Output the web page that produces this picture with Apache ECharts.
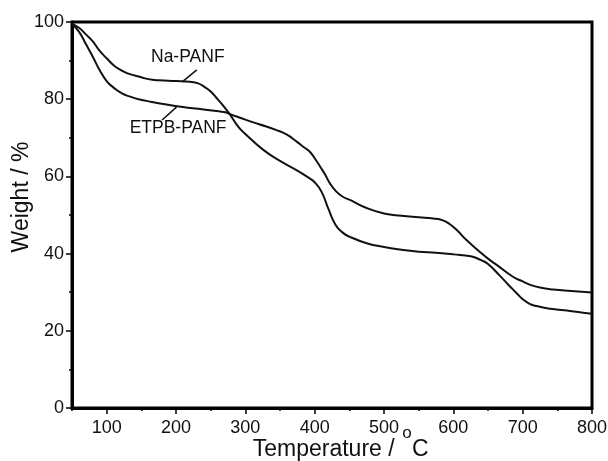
<!DOCTYPE html>
<html><head><meta charset="utf-8">
<script src="https://cdn.jsdelivr.net/npm/echarts@6/dist/echarts.min.js"></script>
<style>html,body{margin:0;padding:0;background:#fff}#c{width:608px;height:461px}</style>
</head><body><div id="c"></div>
<script>
const naTemp = [50,60,70,80,90,100,110,120,130,150,160,175,200,220,232,240,250,260,270,278,290,300,325,350,375,390,400,410,420,430,440,450,475,500,525,550,575,600,625,640,650,667,680,690,700,710,720,740,760,780,800];
const naWeight = [99.5,98.5,96.8,95.0,92.5,90.6,88.8,87.6,86.7,85.7,85.2,84.9,84.7,84.5,84.1,83.3,82.0,80.0,77.9,76.0,72.8,71.0,67.0,64.0,61.5,59.8,58.5,56.0,51.5,47.5,45.5,44.4,42.7,41.7,41.0,40.5,40.2,39.8,39.3,38.3,37.3,34.3,31.8,30.0,28.2,27.0,26.4,25.7,25.3,24.9,24.4];
const etTemp = [50,60,70,80,90,100,110,122,135,146,165,184,210,232,255,271,280,300,320,345,360,374,385,393,400,408,415,422,430,440,451,475,500,525,550,571,585,595,605,619,638,650,663,686,700,711,725,744,770,800];
const etWeight = [99.5,97.5,94.3,91.0,87.5,84.7,83.0,81.5,80.6,80.0,79.3,78.7,78.0,77.5,77.0,76.6,76.0,74.7,73.5,72.0,70.8,69.0,67.5,66.4,64.7,62.5,60.5,58.2,56.3,54.8,53.9,51.8,50.4,49.8,49.4,49.1,48.6,47.6,46.1,43.5,40.5,38.7,37.0,34.0,32.8,31.9,31.2,30.7,30.3,29.9];
const xMajorTicks = [100,200,300,400,500,600,700,800];
const seriesNames = ['Na-PANF','ETPB-PANF'];
const xTitleMain = 'Temperature / ';
const xTitleSup = 'o';
const xTitleUnit = 'C';
const yTitle = 'Weight / %';

const font = 'Liberation Sans, Arial, sans-serif';
const chart = echarts.init(document.getElementById('c'), null, {renderer:'canvas'});
const pair = (xs, ys) => xs.map((x,i)=>[x, ys[i]]);
chart.setOption({
  animation:false,
  backgroundColor:'#fff',
  grid:{left:72,right:16,top:22,bottom:53,outerBoundsMode:'none',containLabel:false,show:true,borderColor:'#000',borderWidth:3,backgroundColor:'transparent'},
  xAxis:[{
    type:'value',min:50,max:800,interval:50,position:'bottom',
    axisLine:{lineStyle:{color:'#000',width:3}},
    axisTick:{show:true,inside:false,length:3,lineStyle:{color:'#000',width:1.5}},
    splitLine:{show:false},
    axisLabel:{margin:11,color:'#111',fontSize:18,fontFamily:font,
      formatter:v=> (v%100===0 ? String(v) : '')}
  },{
    type:'value',min:50,max:800,position:'bottom',
    axisLine:{show:false},
    axisTick:{show:true,inside:false,length:6,customValues:xMajorTicks,lineStyle:{color:'#000',width:1.5}},
    axisLabel:{show:false},splitLine:{show:false}
  }],
  yAxis:{
    type:'value',min:0,max:100,interval:20,
    axisLine:{show:true,lineStyle:{color:'#000',width:3}},
    axisTick:{show:true,inside:false,length:6,lineStyle:{color:'#000',width:1.5}},
    minorTick:{show:true,splitNumber:2,length:3,lineStyle:{color:'#000',width:1.5}},
    splitLine:{show:false},
    axisLabel:{margin:8,color:'#111',fontSize:18,fontFamily:font}
  },
  series:[
    {name:seriesNames[0],type:'line',data:pair(naTemp,naWeight),smooth:true,showSymbol:false,
     lineStyle:{color:'#111',width:2}},
    {name:seriesNames[1],type:'line',data:pair(etTemp,etWeight),smooth:true,showSymbol:false,
     lineStyle:{color:'#111',width:2}}
  ]
});
const P = (t,w)=>chart.convertToPixel({gridIndex:0},[t,w]);
const a1=P(217,90.9), l1a=P(209,84.5), l1b=P(230,87.6);
const a2=P(203,72.5), l2a=P(180,74.6), l2b=P(201,78.0);
chart.setOption({graphic:[
  {type:'text',x:a1[0],y:a1[1],style:{text:seriesNames[0],fill:'#111',font:'17.5px '+font,align:'center',verticalAlign:'middle'}},
  {type:'line',shape:{x1:l1a[0],y1:l1a[1],x2:l1b[0],y2:l1b[1]},style:{stroke:'#111',lineWidth:1.5}},
  {type:'text',x:a2[0],y:a2[1],style:{text:seriesNames[1],fill:'#111',font:'17.5px '+font,align:'center',verticalAlign:'middle'}},
  {type:'line',shape:{x1:l2a[0],y1:l2a[1],x2:l2b[0],y2:l2b[1]},style:{stroke:'#111',lineWidth:1.5}},
  {type:'text',x:401,y:450,style:{text:xTitleMain,fill:'#111',font:'23px '+font,align:'right',verticalAlign:'middle'}},
  {type:'text',x:407,y:433,style:{text:xTitleSup,fill:'#111',font:'17px '+font,align:'center',verticalAlign:'middle'}},
  {type:'text',x:412,y:450,style:{text:xTitleUnit,fill:'#111',font:'23px '+font,align:'left',verticalAlign:'middle'}},
  {type:'text',x:22,y:197,rotation:Math.PI/2,style:{text:yTitle,fill:'#111',font:'23px '+font,align:'center',verticalAlign:'middle'}}
]});
</script></body></html>
